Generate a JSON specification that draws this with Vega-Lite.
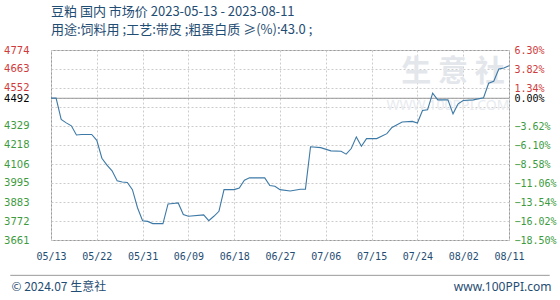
{
  "$schema": "https://vega.github.io/schema/vega-lite/v6.json",
  "width": 458,
  "height": 190,
  "padding": {"left": 3, "top": 6, "right": 4, "bottom": 4},
  "background": "white",
  "title": {
    "text": "豆粕 国内 市场价 2023-05-13 - 2023-08-11",
    "subtitle": "用途:饲料用 ;工艺:带皮 ;粗蛋白质 ≥(%):43.0 ;",
    "anchor": "start",
    "frame": "group",
    "font": "Noto Sans CJK SC",
    "fontSize": 13,
    "fontWeight": "normal",
    "color": "#1f4d73",
    "subtitleFont": "Noto Sans CJK SC",
    "subtitleFontSize": 13,
    "subtitleColor": "#1f4d73",
    "subtitlePadding": 5,
    "offset": 8
  },
  "datasets": {
    "prices": [
      {"date": "2023-05-13", "price": 4492},
      {"date": "2023-05-14", "price": 4492},
      {"date": "2023-05-15", "price": 4367},
      {"date": "2023-05-16", "price": 4347},
      {"date": "2023-05-17", "price": 4330},
      {"date": "2023-05-18", "price": 4276},
      {"date": "2023-05-19", "price": 4279},
      {"date": "2023-05-21", "price": 4279},
      {"date": "2023-05-22", "price": 4245},
      {"date": "2023-05-23", "price": 4140},
      {"date": "2023-05-24", "price": 4100},
      {"date": "2023-05-25", "price": 4066},
      {"date": "2023-05-26", "price": 4008},
      {"date": "2023-05-27", "price": 4001},
      {"date": "2023-05-28", "price": 3998},
      {"date": "2023-05-29", "price": 3956},
      {"date": "2023-05-30", "price": 3850},
      {"date": "2023-05-31", "price": 3774},
      {"date": "2023-06-01", "price": 3770},
      {"date": "2023-06-02", "price": 3757},
      {"date": "2023-06-04", "price": 3757},
      {"date": "2023-06-05", "price": 3872},
      {"date": "2023-06-06", "price": 3875},
      {"date": "2023-06-07", "price": 3878},
      {"date": "2023-06-08", "price": 3810},
      {"date": "2023-06-09", "price": 3800},
      {"date": "2023-06-12", "price": 3808},
      {"date": "2023-06-13", "price": 3774},
      {"date": "2023-06-14", "price": 3800},
      {"date": "2023-06-15", "price": 3829},
      {"date": "2023-06-16", "price": 3956},
      {"date": "2023-06-18", "price": 3956},
      {"date": "2023-06-19", "price": 3966},
      {"date": "2023-06-20", "price": 4011},
      {"date": "2023-06-21", "price": 4025},
      {"date": "2023-06-24", "price": 4025},
      {"date": "2023-06-25", "price": 3980},
      {"date": "2023-06-26", "price": 3976},
      {"date": "2023-06-27", "price": 3956},
      {"date": "2023-06-29", "price": 3948},
      {"date": "2023-07-01", "price": 3958},
      {"date": "2023-07-02", "price": 3959},
      {"date": "2023-07-03", "price": 4207},
      {"date": "2023-07-05", "price": 4202},
      {"date": "2023-07-07", "price": 4183},
      {"date": "2023-07-09", "price": 4181},
      {"date": "2023-07-10", "price": 4164},
      {"date": "2023-07-11", "price": 4197},
      {"date": "2023-07-12", "price": 4265},
      {"date": "2023-07-13", "price": 4210},
      {"date": "2023-07-14", "price": 4255},
      {"date": "2023-07-16", "price": 4255},
      {"date": "2023-07-18", "price": 4284},
      {"date": "2023-07-19", "price": 4320},
      {"date": "2023-07-21", "price": 4352},
      {"date": "2023-07-23", "price": 4356},
      {"date": "2023-07-24", "price": 4346},
      {"date": "2023-07-25", "price": 4420},
      {"date": "2023-07-26", "price": 4424},
      {"date": "2023-07-27", "price": 4521},
      {"date": "2023-07-28", "price": 4482},
      {"date": "2023-07-30", "price": 4482},
      {"date": "2023-07-31", "price": 4400},
      {"date": "2023-08-01", "price": 4459},
      {"date": "2023-08-02", "price": 4478},
      {"date": "2023-08-04", "price": 4482},
      {"date": "2023-08-06", "price": 4494},
      {"date": "2023-08-07", "price": 4579},
      {"date": "2023-08-08", "price": 4591},
      {"date": "2023-08-09", "price": 4663},
      {"date": "2023-08-10", "price": 4669},
      {"date": "2023-08-11", "price": 4682}
    ]
  },
  "layer": [
    {
      "data": {"values": [{}]},
      "mark": {"type": "text", "text": "生  意  社", "font": "Noto Sans CJK SC", "fontSize": 30, "fontWeight": "bold", "color": "#e3e7ec"},
      "encoding": {
        "x": {"datum": {"year": 2023, "month": 7, "date": 31, "utc": true}, "type": "temporal",
              "scale": {"type": "utc", "domain": [{"year": 2023, "month": 5, "date": 13, "utc": true}, {"year": 2023, "month": 8, "date": 11, "utc": true}]}},
        "y": {"datum": 4645, "type": "quantitative", "scale": {"domain": [3661, 4774], "nice": false, "zero": false}, "axis": null}
      }
    },
    {
      "data": {"values": [{}]},
      "mark": {"type": "text", "text": "WWW.100PPI.COM", "font": "Noto Sans", "fontSize": 14, "color": "#e8ebef"},
      "encoding": {
        "x": {"datum": {"year": 2023, "month": 7, "date": 30, "utc": true}, "type": "temporal",
              "scale": {"type": "utc", "domain": [{"year": 2023, "month": 5, "date": 13, "utc": true}, {"year": 2023, "month": 8, "date": 11, "utc": true}]}},
        "y": {"datum": 4446, "type": "quantitative", "scale": {"domain": [3661, 4774], "nice": false, "zero": false}, "axis": null}
      }
    },
    {
      "data": {"values": [{}]},
      "mark": {"type": "rule", "color": "#999999", "strokeWidth": 1},
      "encoding": {
        "x": {"datum": {"year": 2023, "month": 5, "date": 5, "utc": true}, "type": "temporal",
              "scale": {"type": "utc", "domain": [{"year": 2023, "month": 5, "date": 13, "utc": true}, {"year": 2023, "month": 8, "date": 11, "utc": true}]}},
        "x2": {"datum": {"year": 2023, "month": 8, "date": 19, "utc": true}},
        "y": {"datum": 3454, "type": "quantitative", "scale": {"domain": [3661, 4774], "nice": false, "zero": false}, "axis": null}
      }
    },
    {
      "data": {"values": [{}]},
      "mark": {"type": "rule", "color": "#999999", "strokeWidth": 1},
      "encoding": {
        "y": {
          "datum": 0,
          "type": "quantitative",
          "scale": {"domain": [-18.5, 6.3], "nice": false, "zero": false},
          "axis": {
            "orient": "right",
            "values": [6.3, 3.82, 1.34, 0, -3.62, -6.1, -8.58, -11.06, -13.54, -16.02, -18.5],
            "labelExpr": "format(datum.value, '.2f') + '%'",
            "labelColor": {"expr": "datum.value > 0 ? '#d03a3a' : (datum.value == 0 ? '#000000' : '#3d9b3d')"},
            "labelFont": "DejaVu Sans Mono",
            "labelFontSize": 10,
            "labelPadding": 5,
            "labelAlign": "left",
            "labelOverlap": false,
            "ticks": false,
            "domain": false,
            "grid": false,
            "title": "www.100PPI.com",
            "titleAngle": 0,
            "titleX": 42,
            "titleY": 236,
            "titleAlign": "right",
            "titleBaseline": "middle",
            "titleFont": "Noto Sans",
            "titleFontSize": 12,
            "titleFontWeight": "normal",
            "titleColor": "#1f4d73"
          }
        }
      }
    },
    {
      "data": {"name": "prices"},
      "mark": {"type": "line", "color": "#3d79a6", "strokeWidth": 1.1},
      "encoding": {
        "x": {
          "field": "date",
          "type": "temporal",
          "scale": {"type": "utc", "domain": [{"year": 2023, "month": 5, "date": 13, "utc": true}, {"year": 2023, "month": 8, "date": 11, "utc": true}]},
          "axis": {
            "values": [
              {"year": 2023, "month": 5, "date": 13, "utc": true},
              {"year": 2023, "month": 5, "date": 22, "utc": true},
              {"year": 2023, "month": 5, "date": 31, "utc": true},
              {"year": 2023, "month": 6, "date": 9, "utc": true},
              {"year": 2023, "month": 6, "date": 18, "utc": true},
              {"year": 2023, "month": 6, "date": 27, "utc": true},
              {"year": 2023, "month": 7, "date": 6, "utc": true},
              {"year": 2023, "month": 7, "date": 15, "utc": true},
              {"year": 2023, "month": 7, "date": 24, "utc": true},
              {"year": 2023, "month": 8, "date": 2, "utc": true},
              {"year": 2023, "month": 8, "date": 11, "utc": true}
            ],
            "format": "%m/%d",
            "labelFont": "DejaVu Sans Mono",
            "labelFontSize": 10,
            "labelColor": "#1f4d73",
            "labelPadding": 11,
            "labelFlush": false,
            "labelOverlap": false,
            "ticks": false,
            "domain": false,
            "grid": true,
            "gridColor": "#cccccc",
            "gridDash": [2, 2],
            "title": "© 2024.07 生意社",
            "titleX": -40,
            "titleY": 46,
            "titleAlign": "left",
            "titleBaseline": "middle",
            "titleFont": "Noto Sans CJK SC",
            "titleFontSize": 12,
            "titleFontWeight": "normal",
            "titleColor": "#1f4d73"
          }
        },
        "y": {
          "field": "price",
          "type": "quantitative",
          "scale": {"domain": [3661, 4774], "nice": false, "zero": false},
          "axis": {
            "orient": "left",
            "values": [4774, 4663, 4552, 4492, 4441, 4329, 4218, 4106, 3995, 3883, 3772, 3661],
            "labelExpr": "datum.value == 4441 ? '' : datum.label",
            "format": "d",
            "labelColor": {"expr": "datum.value > 4492 ? '#d03a3a' : (datum.value == 4492 ? '#000000' : '#3d9b3d')"},
            "labelFont": "DejaVu Sans",
            "labelFontSize": 10,
            "labelPadding": 22,
            "labelOverlap": false,
            "ticks": false,
            "domain": false,
            "grid": true,
            "gridColor": "#cccccc",
            "gridDash": [2, 2],
            "title": null
          }
        }
      }
    }
  ],
  "resolve": {"scale": {"y": "independent"}},
  "config": {
    "view": {"stroke": "#999999", "strokeWidth": 1}
  }
}
